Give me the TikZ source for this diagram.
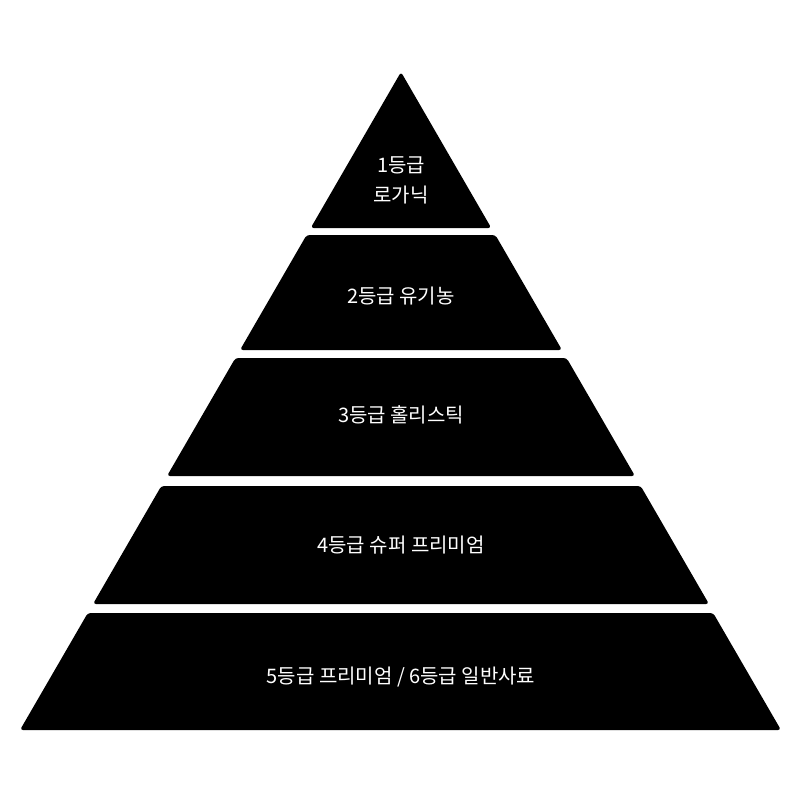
\documentclass[tikz,border=0pt]{standalone}
\usepackage{fontspec}
\setmainfont{Noto Sans CJK KR}
\begin{document}
\begin{tikzpicture}[x=1pt,y=-1pt,
  layer/.style={fill=black,rounded corners=3pt},
  lbl/.style={text=white,font=\fontsize{20}{30}\selectfont,align=center}]
\useasboundingbox (0,0) rectangle (800,800);
\fill[white] (0,0) rectangle (800,800);
\fill[layer] (401,72) -- (491.3,228) -- (310.7,228) -- cycle;
\fill[layer] (306.6,235) -- (495.4,235) -- (562,350) -- (240,350) -- cycle;
\fill[layer] (235.4,358) -- (566.6,358) -- (635,476) -- (167,476) -- cycle;
\fill[layer] (161.3,486) -- (640.7,486) -- (709,604) -- (93,604) -- cycle;
\fill[layer] (87.8,613) -- (713.2,613) -- (781,730) -- (20,730) -- cycle;
\node[lbl] (t1) at (401,180) {1등급\\로가닉};
\node[lbl] (t2) at (401,296) {2등급 유기농};
\node[lbl] (t3) at (401,415) {3등급 홀리스틱};
\node[lbl] (t4) at (401,545) {4등급 슈퍼 프리미엄};
\node[lbl] (t5) at (401,677) {5등급 프리미엄 / 6등급 일반사료};
\end{tikzpicture}
\end{document}
